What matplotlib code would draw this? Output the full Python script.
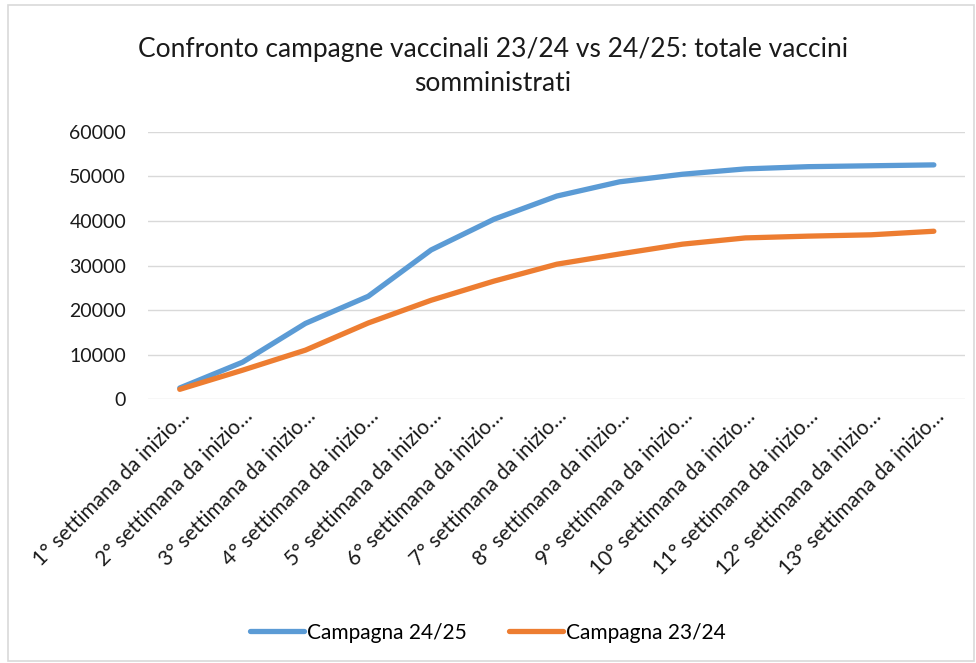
import matplotlib.pyplot as plt
from matplotlib.patches import Rectangle

plt.rcParams['font.family'] = ['Lato', 'DejaVu Sans']

settimane = [f"{i}° settimana da inizio…" for i in range(1, 14)]
campagna_2425 = [2500, 8300, 17000, 23100, 33500, 40400, 45600, 48800,
                 50500, 51700, 52200, 52400, 52600]
campagna_2324 = [2200, 6500, 11000, 17100, 22200, 26500, 30300, 32600,
                 34800, 36200, 36600, 36900, 37700]

fig = plt.figure(figsize=(9.76, 6.63), dpi=100)
fig.patches.append(Rectangle((0.008, 0.003), 0.99, 0.99, transform=fig.transFigure,
                             fill=False, edgecolor='#d9d9d9', lw=1.2))
ax = fig.add_axes([0.152, 0.398, 0.837, 0.403])

x = range(len(settimane))
ax.plot(x, campagna_2425, color='#5B9BD5', lw=3.8, solid_capstyle='round',
        solid_joinstyle='round', label='Campagna 24/25')
ax.plot(x, campagna_2324, color='#ED7D31', lw=3.8, solid_capstyle='round',
        solid_joinstyle='round', label='Campagna 23/24')

ax.set_xlim(-0.5, len(settimane) - 0.5)
ax.set_ylim(0, 60000)
ax.set_yticks(range(0, 60001, 10000))
ax.grid(axis='y', color='#d9d9d9', lw=1)
ax.set_axisbelow(True)
for s in ax.spines.values():
    s.set_visible(False)
ax.tick_params(length=0, labelsize=14, colors='#1a1a1a')
ax.tick_params(axis='y', pad=16)
ax.set_xticks(list(x))
ax.set_xticklabels(settimane, rotation=45, ha='right', rotation_mode='anchor',
                   fontsize=15)
ax.tick_params(axis='x', pad=5)

fig.text(0.505, 0.9, 'Confronto campagne vaccinali 23/24 vs 24/25: totale vaccini\nsomministrati',
         ha='center', va='center', fontsize=19, color='#1a1a1a', linespacing=1.45)

fig.legend(loc='center', bbox_to_anchor=(0.5, 0.046), ncol=2, frameon=False,
           fontsize=15, handlelength=2.6, columnspacing=2.0, handletextpad=0.15)

fig.savefig('out.png', dpi=100)
